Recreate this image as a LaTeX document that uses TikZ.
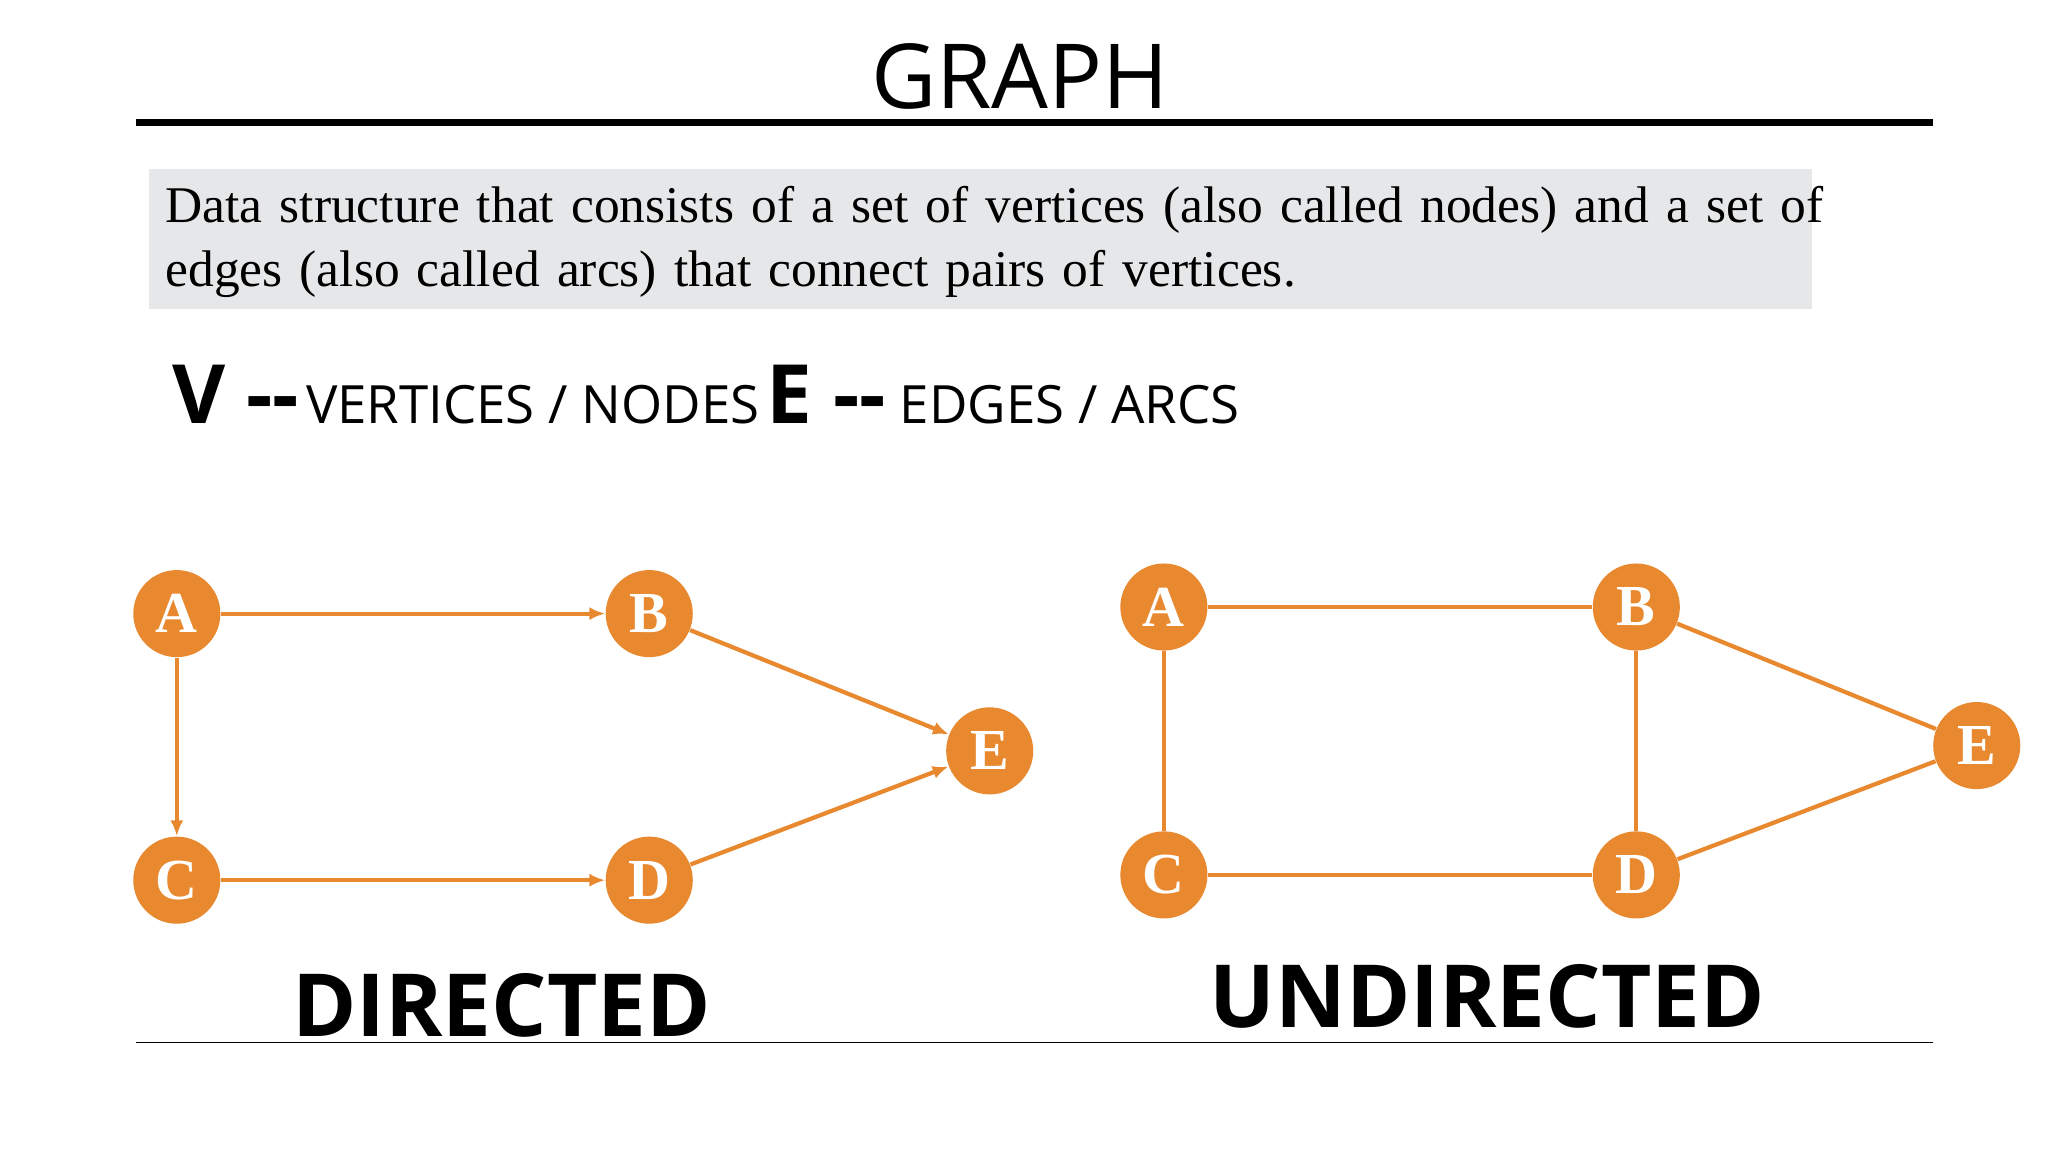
\documentclass[tikz,border=0pt]{standalone}
\usepackage{fontspec}
\setmainfont{Liberation Serif}
\newfontfamily\sans{Open Sans}
\definecolor{org}{HTML}{E8892F}
\definecolor{boxg}{HTML}{E6E7E9}
\begin{document}
\begin{tikzpicture}[x=0.5pt,y=-0.5pt,
 v/.style={circle,fill=org,minimum size=33pt,inner sep=0pt,text=white,font=\fontsize{22}{22}\selectfont\bfseries},
 e/.style={draw=org,line width=1.6pt},
 a/.style={e,-{Latex[length=6pt,width=5pt]}}]
\usetikzlibrary{arrows.meta}
\useasboundingbox (0,0) rectangle (1552,873);
\node[font=\sans\fontsize{34}{34}\selectfont] (t) at (773,58) {GRAPH};
\draw[line width=2.5pt] (103,93) coordinate (r1) -- (1465,93) coordinate (r2);
\fill[boxg] (113,128) rectangle (1373,234);
\node[anchor=north west,align=left,text width=640pt,font=\fontsize{19.5}{24}\selectfont,inner sep=0pt] (d) at (125,141) {Data structure that consists of a set of vertices (also called nodes) and a set of edges (also called arcs) that connect pairs of vertices.};
\node[anchor=base west,inner sep=0pt,font=\sans] (ve) at (130,321) {{\fontsize{31}{31}\selectfont\bfseries V --}\ {\fontsize{20}{20}\selectfont VERTICES / NODES} {\fontsize{31}{31}\selectfont\bfseries E --}\ \ {\fontsize{20}{20}\selectfont EDGES / ARCS}};
\node[v] (A) at (134,465) {A};
\node[v] (B) at (492,465) {B};
\node[v] (C) at (134,667) {C};
\node[v] (D) at (492,667) {D};
\node[v] (E) at (750,569) {E};
\draw[a] (A) -- (B); \draw[a] (A) -- (C); \draw[a] (C) -- (D);
\draw[a] (B) -- (E); \draw[a] (D) -- (E);
\node[v] (A2) at (882,460) {A};
\node[v] (B2) at (1240,460) {B};
\node[v] (C2) at (882,663) {C};
\node[v] (D2) at (1240,663) {D};
\node[v] (E2) at (1498,565) {E};
\draw[e] (A2) -- (B2); \draw[e] (A2) -- (C2); \draw[e] (C2) -- (D2);
\draw[e] (B2) -- (D2); \draw[e] (B2) -- (E2); \draw[e] (D2) -- (E2);
\node[font=\sans\fontsize{33}{33}\selectfont\bfseries] (l1) at (380,762) {DIRECTED};
\node[font=\sans\fontsize{33}{33}\selectfont\bfseries] (l2) at (1127,755) {UNDIRECTED};
\draw[line width=0.7pt] (103,790) coordinate (s1) -- (1465,790) coordinate (s2);
\end{tikzpicture}
\end{document}
